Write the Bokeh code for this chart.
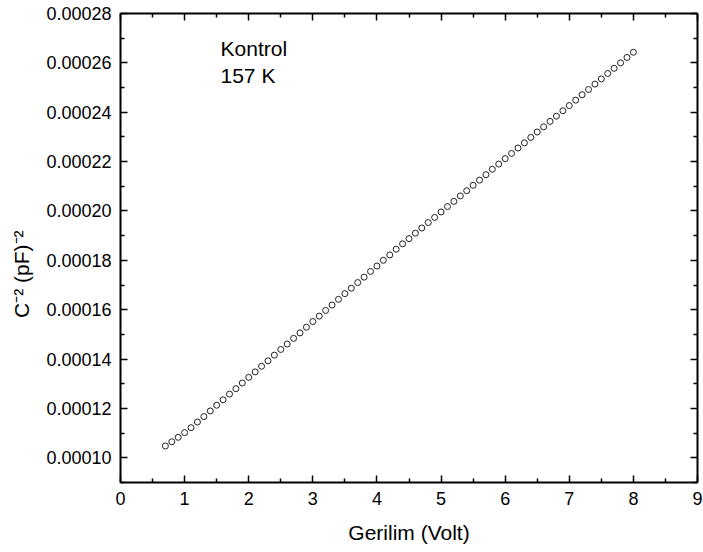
import numpy as np
from bokeh.plotting import figure
from bokeh.models import (LinearAxis, FixedTicker, PrintfTickFormatter, Label, Range1d,
                          CustomJSTickFormatter)
from bokeh.embed import file_html
from bokeh.resources import INLINE

# Bias voltage (V) and the measured C^-2 values, (pF)^-2
voltage = [0.7, 0.8, 0.9, 1.0, 1.1, 1.2, 1.3, 1.4, 1.5, 1.6,
           1.7, 1.8, 1.9, 2.0, 2.1, 2.2, 2.3, 2.4, 2.5, 2.6,
           2.7, 2.8, 2.9, 3.0, 3.1, 3.2, 3.3, 3.4, 3.5, 3.6,
           3.7, 3.8, 3.9, 4.0, 4.1, 4.2, 4.3, 4.4, 4.5, 4.6,
           4.7, 4.8, 4.9, 5.0, 5.1, 5.2, 5.3, 5.4, 5.5, 5.6,
           5.7, 5.8, 5.9, 6.0, 6.1, 6.2, 6.3, 6.4, 6.5, 6.6,
           6.7, 6.8, 6.9, 7.0, 7.1, 7.2, 7.3, 7.4, 7.5, 7.6,
           7.7, 7.8, 7.9, 8.0]

inv_cap_sq = [1.048e-4, 1.065e-4, 1.083e-4, 1.102e-4, 1.122e-4, 1.145e-4, 1.167e-4, 1.190e-4, 1.213e-4, 1.235e-4,
              1.258e-4, 1.280e-4, 1.303e-4, 1.326e-4, 1.348e-4, 1.371e-4, 1.393e-4, 1.416e-4, 1.439e-4, 1.461e-4,
              1.484e-4, 1.506e-4, 1.529e-4, 1.552e-4, 1.574e-4, 1.597e-4, 1.619e-4, 1.642e-4, 1.665e-4, 1.687e-4,
              1.710e-4, 1.732e-4, 1.755e-4, 1.777e-4, 1.800e-4, 1.822e-4, 1.845e-4, 1.867e-4, 1.888e-4, 1.910e-4,
              1.931e-4, 1.953e-4, 1.974e-4, 1.996e-4, 2.018e-4, 2.039e-4, 2.061e-4, 2.082e-4, 2.104e-4, 2.125e-4,
              2.147e-4, 2.169e-4, 2.190e-4, 2.212e-4, 2.233e-4, 2.255e-4, 2.276e-4, 2.298e-4, 2.320e-4, 2.341e-4,
              2.363e-4, 2.384e-4, 2.406e-4, 2.427e-4, 2.449e-4, 2.471e-4, 2.492e-4, 2.514e-4, 2.535e-4, 2.557e-4,
              2.578e-4, 2.600e-4, 2.622e-4, 2.643e-4]

x_ticks = [0, 1, 2, 3, 4, 5, 6, 7, 8, 9]
x_minor = [0.5, 1.5, 2.5, 3.5, 4.5, 5.5, 6.5, 7.5, 8.5]
y_ticks = [0.00010, 0.00012, 0.00014, 0.00016, 0.00018, 0.00020, 0.00022, 0.00024, 0.00026, 0.00028]
y_minor = [0.00009, 0.00011, 0.00013, 0.00015, 0.00017, 0.00019, 0.00021, 0.00023, 0.00025, 0.00027]

sample_name = "Kontrol"
temperature = "157 K"
x_title = "Gerilim (Volt)"
# trailing no-break spaces push the title a little toward the bottom of the axis
y_title = "C\u207b\u00b2 (pF)\u207b\u00b2" + "\u00a0" * 9

FONT = "Liberation Sans"

p = figure(width=703, height=552, output_backend="svg", toolbar_location=None,
           x_range=Range1d(0, 9), y_range=Range1d(0.00009, 0.00028),
           min_border_left=120, min_border_right=6, min_border_top=13, min_border_bottom=70,
           x_axis_label=x_title, y_axis_label=y_title)
p.outline_line_color = None
p.grid.visible = False
p.background_fill_color = "white"
p.border_fill_color = "white"

bottom_axis = p.below[0]
left_axis = p.left[0]

# the frame's top and right sides carry ticks only
blank = CustomJSTickFormatter(code="return ''")
top_axis = LinearAxis(formatter=blank, major_label_standoff=0)
right_axis = LinearAxis(formatter=blank, major_label_standoff=0)
p.add_layout(top_axis, "above")
p.add_layout(right_axis, "right")

for ax in (bottom_axis, top_axis):
    ax.ticker = FixedTicker(ticks=x_ticks, minor_ticks=x_minor)
for ax in (left_axis, right_axis):
    ax.ticker = FixedTicker(ticks=y_ticks, minor_ticks=y_minor)
left_axis.formatter = PrintfTickFormatter(format="%.5f")

for ax in (bottom_axis, top_axis, left_axis, right_axis):
    ax.axis_line_width = 2
    ax.axis_line_color = "black"
    ax.major_tick_line_color = "black"
    ax.minor_tick_line_color = "black"
    ax.major_tick_line_width = 1.5
    ax.minor_tick_line_width = 1.5
    ax.major_tick_in = 7
    ax.major_tick_out = 0
    ax.minor_tick_in = 4
    ax.minor_tick_out = 0
    ax.major_label_text_font = FONT
    ax.major_label_text_font_size = "18px"
    ax.major_label_text_color = "black"
    ax.axis_label_text_font = FONT
    ax.axis_label_text_font_size = "21px"
    ax.axis_label_text_font_style = "normal"
    ax.axis_label_text_color = "black"

for ax in (top_axis, right_axis):
    ax.major_label_text_font_size = "2px"

bottom_axis.major_label_standoff = 9
bottom_axis.axis_label_standoff = 13
left_axis.major_label_standoff = 9
left_axis.axis_label_standoff = 10

p.scatter(voltage, inv_cap_sq, marker="circle", size=6,
          fill_color=None, line_color="#222222", line_width=1)

p.add_layout(Label(x=1.56, y=0.0002657, text=sample_name, text_font=FONT,
                   text_font_size="21px", text_color="black",
                   text_baseline="alphabetic"))
p.add_layout(Label(x=1.56, y=0.00025488, text=temperature, text_font=FONT,
                   text_font_size="21px", text_color="black",
                   text_baseline="alphabetic"))

open("out.html", "w").write(file_html(p, INLINE))
